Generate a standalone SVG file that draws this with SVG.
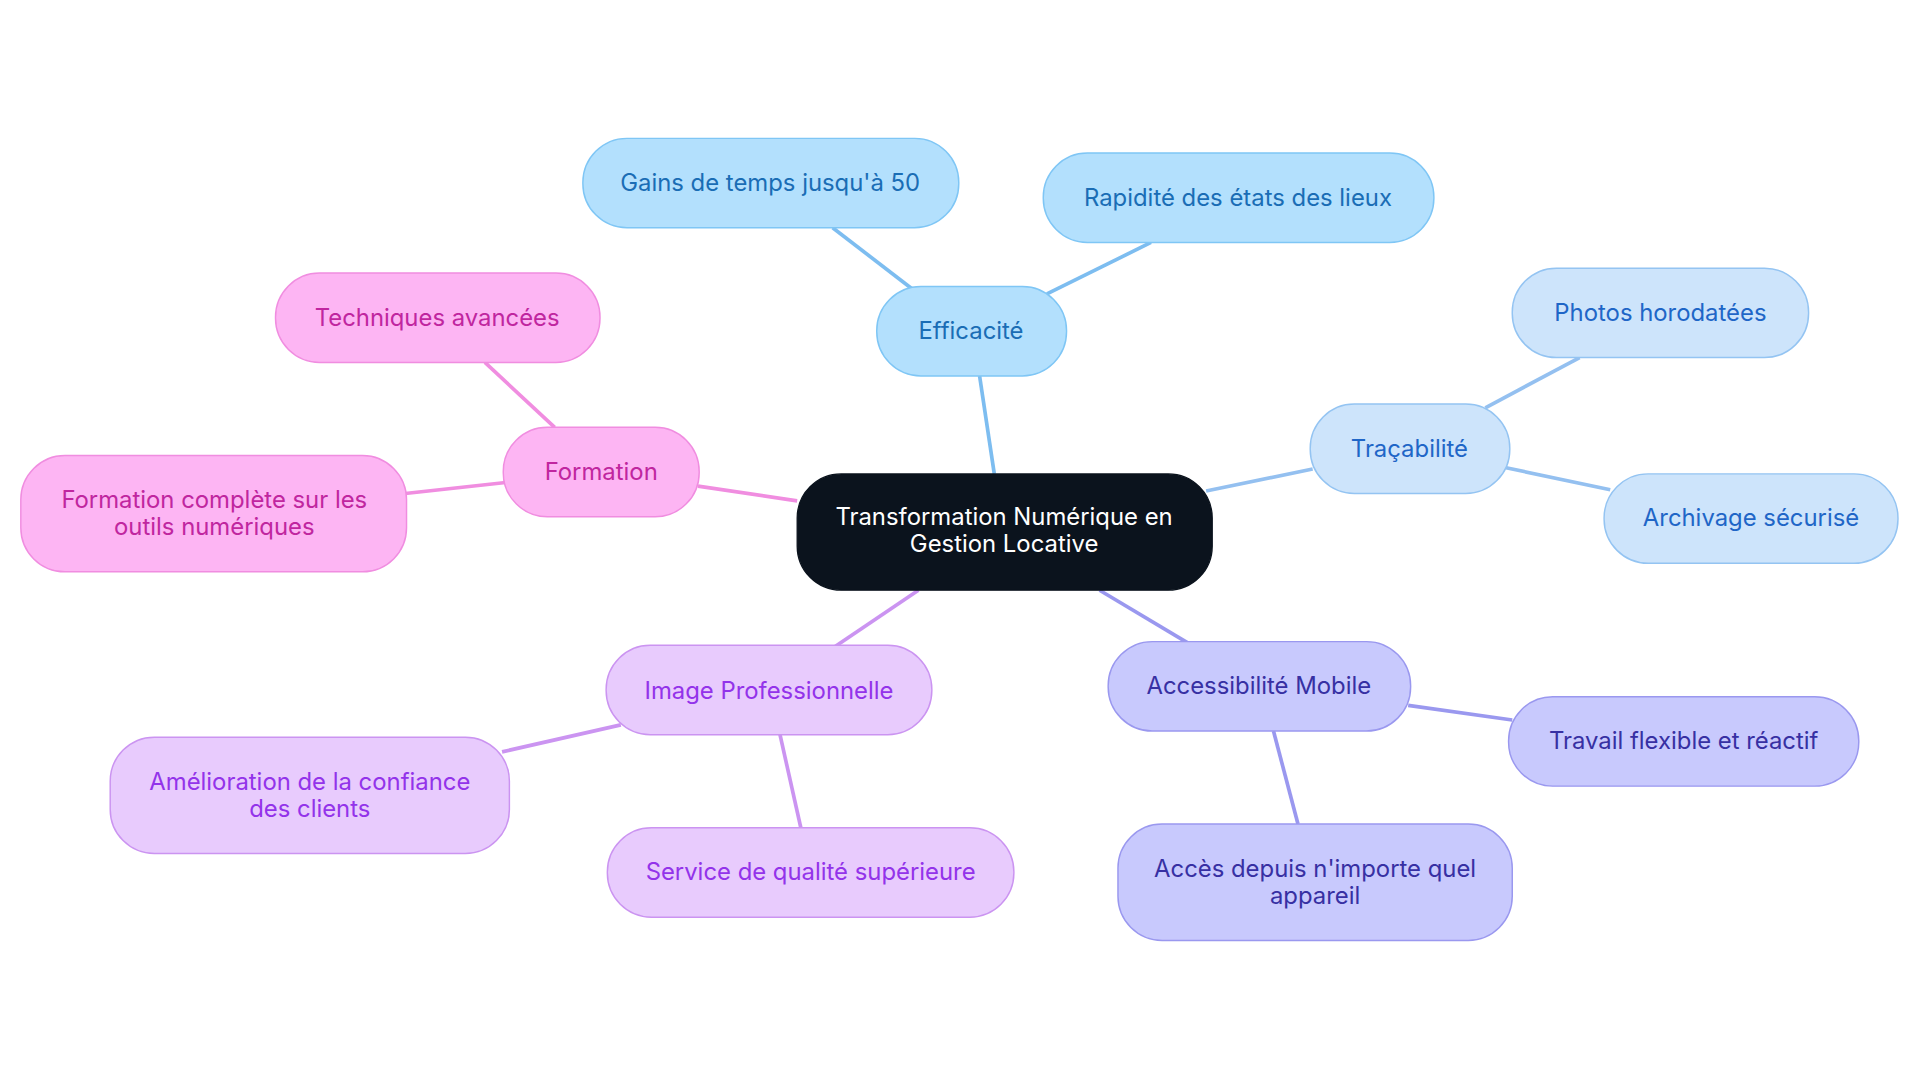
<svg xmlns="http://www.w3.org/2000/svg" width="1920" height="1083" viewBox="0 0 1920 1083">
<style>
text{font-family:Inter,"Noto Sans",sans-serif;font-size:19.5px;text-anchor:middle;dominant-baseline:central}
.c rect{fill:#0b131d;stroke:#0b131d}.c text{fill:#fff}
.b rect{fill:#b3e0fd;stroke:#7fc6f5;stroke-width:1.2}.b text{fill:#1a6db5}
.t rect{fill:#cde4fb;stroke:#94c4f2;stroke-width:1.2}.t text{fill:#1f66c7}
.a rect{fill:#c8c9fd;stroke:#9a98ef;stroke-width:1.2}.a text{fill:#3730a3}
.i rect{fill:#e8cbfd;stroke:#cb94f1;stroke-width:1.2}.i text{fill:#9333ea}
.f rect{fill:#fdb5f3;stroke:#f08de0;stroke-width:1.2}.f text{fill:#c0269f}
#edges line{stroke-width:3}
</style>
<rect width="1920" height="1083" fill="#fff"/>
<g transform="scale(1.2245)">
<g id="edges">
<line x1="812" y1="387" x2="800" y2="307" stroke="#7dbdf0"/>
<line x1="745" y1="236" x2="680" y2="186" stroke="#7dbdf0"/>
<line x1="855" y1="240" x2="940" y2="198" stroke="#7dbdf0"/>
<line x1="985" y1="401" x2="1072" y2="383" stroke="#94c0f0"/>
<line x1="1213" y1="333" x2="1290" y2="292" stroke="#94c0f0"/>
<line x1="1230" y1="382" x2="1315" y2="400" stroke="#94c0f0"/>
<line x1="898" y1="482" x2="970" y2="525" stroke="#9a98ef"/>
<line x1="1150" y1="576" x2="1235" y2="588" stroke="#9a98ef"/>
<line x1="1040" y1="597" x2="1060" y2="673" stroke="#9a98ef"/>
<line x1="750" y1="482" x2="682" y2="528" stroke="#cb94f1"/>
<line x1="507" y1="592" x2="410" y2="614" stroke="#cb94f1"/>
<line x1="637" y1="600" x2="654" y2="676" stroke="#cb94f1"/>
<line x1="651" y1="409" x2="570" y2="397" stroke="#f08de0"/>
<line x1="453" y1="349" x2="396" y2="296" stroke="#f08de0"/>
<line x1="413" y1="394" x2="331" y2="403" stroke="#f08de0"/>
</g>
<g id="center" class="c"><rect x="651" y="387" width="339" height="95" rx="36"/><text x="820" y="422">Transformation Numérique en</text><text x="820" y="444">Gestion Locative</text></g>
<g id="efficacite" class="b"><rect x="716" y="234" width="155" height="73" rx="36"/><text x="793" y="270">Efficacité</text></g>
<g id="gains" class="b"><rect x="476" y="113" width="307" height="73" rx="36"/><text x="629" y="149">Gains de temps jusqu'à 50</text></g>
<g id="rapidite" class="b"><rect x="852" y="125" width="319" height="73" rx="36"/><text x="1011" y="161">Rapidité des états des lieux</text></g>
<g id="tracabilite" class="t"><rect x="1070" y="330" width="163" height="73" rx="36"/><text x="1151" y="366">Traçabilité</text></g>
<g id="photos" class="t"><rect x="1235" y="219" width="242" height="73" rx="36"/><text x="1356" y="255">Photos horodatées</text></g>
<g id="archivage" class="t"><rect x="1310" y="387" width="240" height="73" rx="36"/><text x="1430" y="423">Archivage sécurisé</text></g>
<g id="mobile" class="a"><rect x="905" y="524" width="247" height="73" rx="36"/><text x="1028" y="560">Accessibilité Mobile</text></g>
<g id="travail" class="a"><rect x="1232" y="569" width="286" height="73" rx="36"/><text x="1375" y="605">Travail flexible et réactif</text></g>
<g id="acces" class="a"><rect x="913" y="673" width="322" height="95" rx="36"/><text x="1074" y="709">Accès depuis n'importe quel</text><text x="1074" y="731">appareil</text></g>
<g id="image" class="i"><rect x="495" y="527" width="266" height="73" rx="36"/><text x="628" y="564">Image Professionnelle</text></g>
<g id="amelioration" class="i"><rect x="90" y="602" width="326" height="95" rx="36"/><text x="253" y="638">Amélioration de la confiance</text><text x="253" y="660">des clients</text></g>
<g id="service" class="i"><rect x="496" y="676" width="332" height="73" rx="36"/><text x="662" y="712">Service de qualité supérieure</text></g>
<g id="formation" class="f"><rect x="411" y="349" width="160" height="73" rx="36"/><text x="491" y="385">Formation</text></g>
<g id="techniques" class="f"><rect x="225" y="223" width="265" height="73" rx="36"/><text x="357" y="259">Techniques avancées</text></g>
<g id="complete" class="f"><rect x="17" y="372" width="315" height="95" rx="36"/><text x="175" y="408">Formation complète sur les</text><text x="175" y="430">outils numériques</text></g>
</g>
</svg>
